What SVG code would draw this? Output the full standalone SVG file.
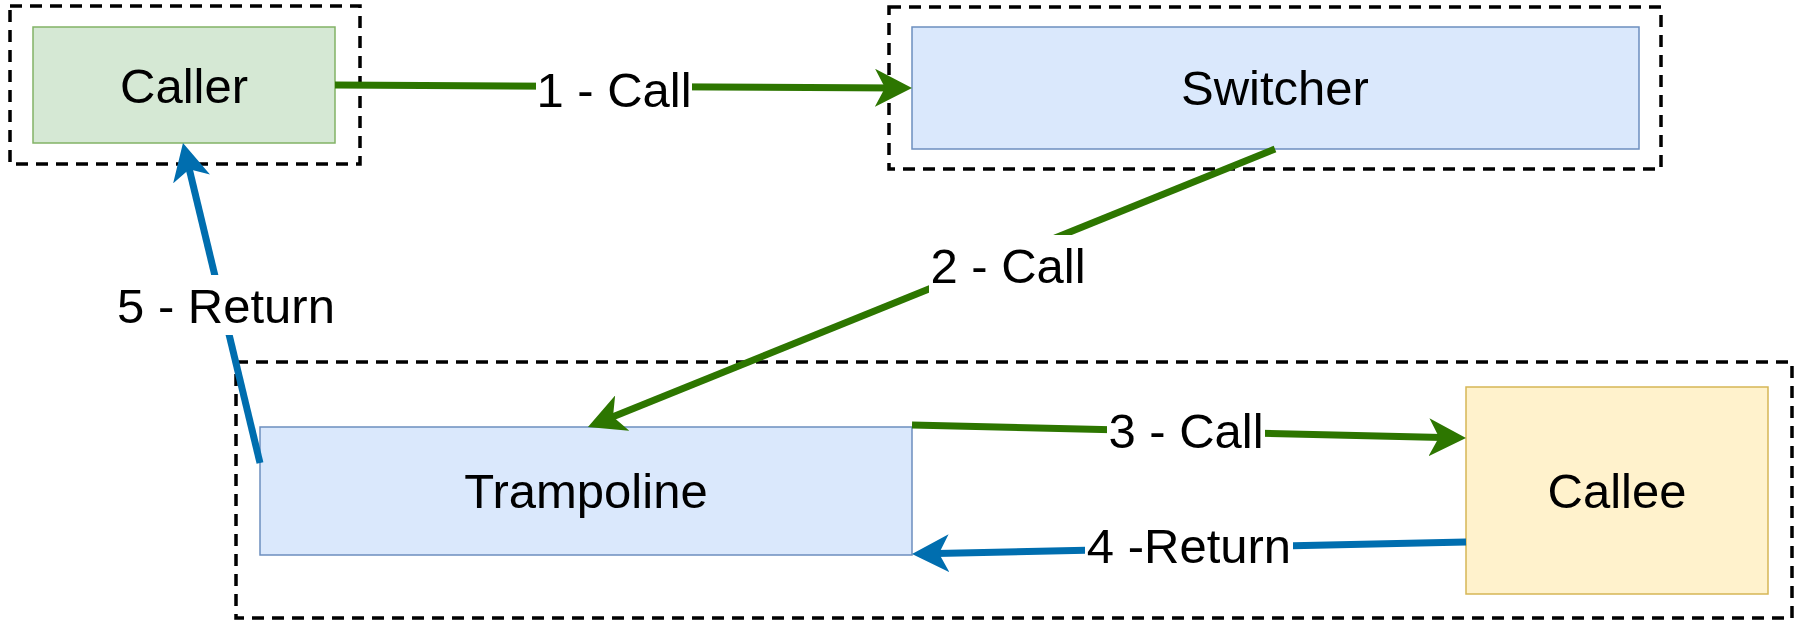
<svg xmlns="http://www.w3.org/2000/svg" width="1796" height="627" viewBox="0 0 1796 627">
<defs>
<style>
.grp{fill:none;stroke:#000;stroke-width:3.5;stroke-dasharray:12 8}
.lbl{font-family:"Liberation Sans",Arial,sans-serif;font-size:49px;fill:#000;text-anchor:middle}
.bg{fill:#fff}
.g{stroke:#2D7600;stroke-width:7;fill:none}
.b{stroke:#006EAF;stroke-width:7;fill:none}
</style>
<marker id="ag" viewBox="0 0 37 38" refX="24" refY="19" markerWidth="37" markerHeight="38" markerUnits="userSpaceOnUse" orient="auto">
<path d="M0,0 L37,19 L0,38 L10,19 Z" fill="#2D7600"/>
</marker>
<marker id="ab" viewBox="0 0 37 38" refX="24" refY="19" markerWidth="37" markerHeight="38" markerUnits="userSpaceOnUse" orient="auto">
<path d="M0,0 L37,19 L0,38 L10,19 Z" fill="#006EAF"/>
</marker>
</defs>
<rect width="1796" height="627" fill="#fff"/>
<g id="groups">
<rect class="grp" x="10" y="6" width="350" height="158"/>
<rect class="grp" x="889" y="7" width="772" height="162"/>
<rect class="grp" x="236" y="362" width="1556" height="256"/>
</g>
<g id="caller">
<rect x="33" y="27" width="302" height="116" fill="#d5e8d4" stroke="#82b366" stroke-width="1.5"/>
<text class="lbl" x="184" y="103">Caller</text>
</g>
<g id="switcher">
<rect x="912" y="27" width="727" height="122" fill="#dae8fc" stroke="#6c8ebf" stroke-width="1.5"/>
<text class="lbl" x="1275" y="105">Switcher</text>
</g>
<g id="trampoline">
<rect x="260" y="427" width="652" height="128" fill="#dae8fc" stroke="#6c8ebf" stroke-width="1.5"/>
<text class="lbl" x="586" y="508">Trampoline</text>
</g>
<g id="callee">
<rect x="1466" y="387" width="302" height="207" fill="#fff2cc" stroke="#d6b656" stroke-width="1.5"/>
<text class="lbl" x="1617" y="508">Callee</text>
</g>
<g id="connectors">
<line class="g" x1="335" y1="85" x2="899" y2="87.9" marker-end="url(#ag)"/>
<rect class="bg" x="536" y="59" width="156" height="60"/>
<text class="lbl" x="614" y="107">1 - Call</text>
<line class="g" x1="1275" y1="149" x2="600" y2="422.1" marker-end="url(#ag)"/>
<rect class="bg" x="929" y="235" width="158" height="60"/>
<text class="lbl" x="1008" y="283">2 - Call</text>
<line class="g" x1="912" y1="425" x2="1453" y2="437.7" marker-end="url(#ag)"/>
<rect class="bg" x="1107" y="400" width="158" height="60"/>
<text class="lbl" x="1186" y="448">3 - Call</text>
<line class="b" x1="1466" y1="542" x2="925" y2="553.7" marker-end="url(#ab)"/>
<rect class="bg" x="1085" y="515" width="208" height="60"/>
<text class="lbl" x="1189" y="563">4 -Return</text>
<line class="b" x1="260" y1="463" x2="186" y2="155.6" marker-end="url(#ab)"/>
<rect class="bg" x="115" y="275" width="222" height="60"/>
<text class="lbl" x="226" y="323">5 - Return</text>
</g>
</svg>
